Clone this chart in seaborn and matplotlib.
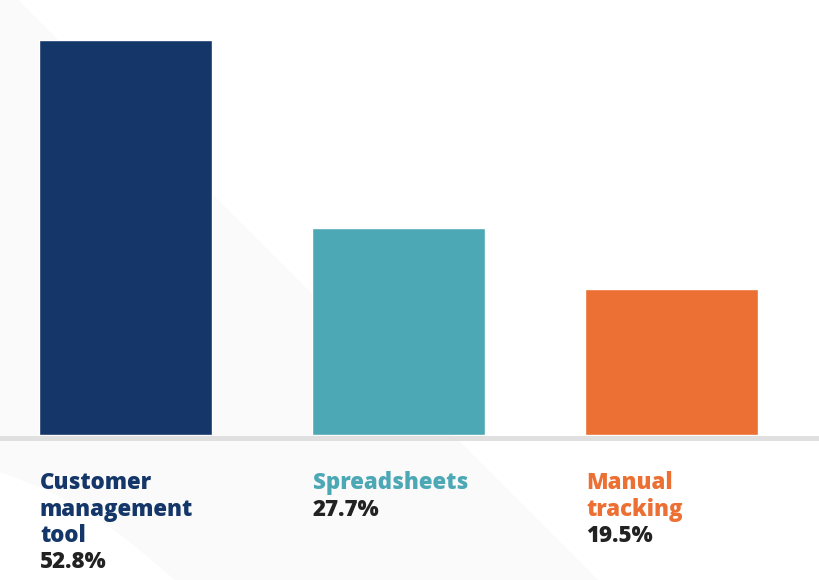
import matplotlib
matplotlib.use("Agg")
import matplotlib.pyplot as plt
import seaborn as sns
import pandas as pd
from matplotlib.patches import Polygon
from matplotlib.lines import Line2D

# data
categories = ["Customer management tool", "Spreadsheets", "Manual tracking"]
label_lines = [["Customer", "management", "tool"], ["Spreadsheets"], ["Manual", "tracking"]]
shares = [52.8, 27.7, 19.5]
colors = ["#143668", "#4DA8B6", "#EC7034"]

df = pd.DataFrame({"tool": categories, "share": shares})

sns.set_theme(style="white")
plt.rcParams["font.family"] = ["Open Sans", "DejaVu Sans"]

W, H = 820, 580
fig = plt.figure(figsize=(W / 100, H / 100), dpi=100)
fig.patch.set_facecolor("white")

def fx(px):
    return px / W

def fy(py):
    return 1 - py / H

# light grey diagonal shape in the background
bg_px = [(0, 0), (18, 0), (598, 580), (175, 580), (130, 542), (90, 512),
         (45, 489), (0, 472)]
fig.add_artist(Polygon([(fx(x), fy(y)) for x, y in bg_px], closed=True,
                       facecolor="#FAFAFA", edgecolor="none", zorder=0))

base_px, top_px = 435, 40
ax = fig.add_axes([fx(-1), fy(base_px), 1, (base_px - top_px) / H])
ax.set_facecolor("none")
sns.barplot(data=df, x="tool", y="share", hue="tool", palette=colors,
            width=173 / 273, legend=False, ax=ax, saturation=1)
ax.set_xlim(-126.5 / 273, (W - 126.5) / 273)
ax.set_ylim(0, max(shares))
ax.axis("off")

# baseline
fig.add_artist(Line2D([0, 1], [fy(437.5), fy(437.5)], color="#E0E0E0",
                      linewidth=3.6, zorder=3))

# labels under the bars
pitch = 26.5
for i, (lines, val, col) in enumerate(zip(label_lines, shares, colors)):
    left = fx(40 + i * 273)
    y = 489
    for ln in lines:
        fig.text(left, fy(y), ln, color=col, fontsize=16, fontweight="heavy",
                 va="baseline", ha="left")
        y += pitch
    fig.text(left, fy(y), f"{val}%", color="#222222", fontsize=16,
             fontweight="heavy", va="baseline", ha="left")

fig.savefig("out.png", dpi=100)
